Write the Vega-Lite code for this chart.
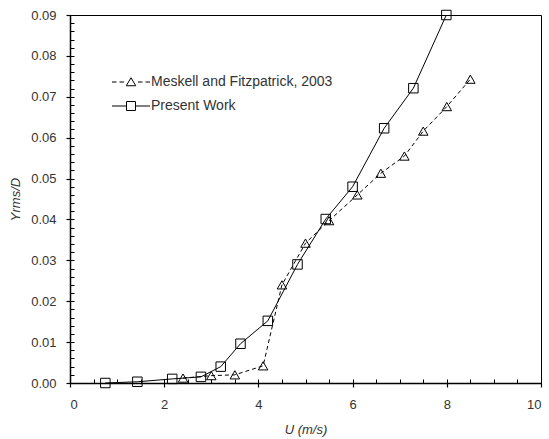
{
  "$schema": "https://vega.github.io/schema/vega-lite/v6.json",
  "width": 471,
  "height": 368,
  "autosize": "none",
  "padding": {"left": 70, "top": 15, "right": 8, "bottom": 56},
  "background": "white",
  "config": {
    "view": {"stroke": "black", "strokeWidth": 1},
    "font": "Liberation Sans",
    "axis": {"grid": false}
  },
  "data": {
    "values": [
      {"series": "Meskell and Fitzpatrick, 2003", "U": 2.4, "Y": 0.0012},
      {"series": "Meskell and Fitzpatrick, 2003", "U": 3.0, "Y": 0.0018},
      {"series": "Meskell and Fitzpatrick, 2003", "U": 3.5, "Y": 0.0020},
      {"series": "Meskell and Fitzpatrick, 2003", "U": 4.1, "Y": 0.0042},
      {"series": "Meskell and Fitzpatrick, 2003", "U": 4.5, "Y": 0.0240},
      {"series": "Meskell and Fitzpatrick, 2003", "U": 5.0, "Y": 0.0342},
      {"series": "Meskell and Fitzpatrick, 2003", "U": 5.5, "Y": 0.0397},
      {"series": "Meskell and Fitzpatrick, 2003", "U": 6.1, "Y": 0.0460},
      {"series": "Meskell and Fitzpatrick, 2003", "U": 6.6, "Y": 0.0513},
      {"series": "Meskell and Fitzpatrick, 2003", "U": 7.1, "Y": 0.0555},
      {"series": "Meskell and Fitzpatrick, 2003", "U": 7.5, "Y": 0.0616},
      {"series": "Meskell and Fitzpatrick, 2003", "U": 8.0, "Y": 0.0676},
      {"series": "Meskell and Fitzpatrick, 2003", "U": 8.5, "Y": 0.0743},
      {"series": "Present Work", "U": 0.75, "Y": 0.0},
      {"series": "Present Work", "U": 1.43, "Y": 0.0003},
      {"series": "Present Work", "U": 2.17, "Y": 0.0010},
      {"series": "Present Work", "U": 2.78, "Y": 0.0015},
      {"series": "Present Work", "U": 3.2, "Y": 0.0040},
      {"series": "Present Work", "U": 3.62, "Y": 0.0096},
      {"series": "Present Work", "U": 4.2, "Y": 0.0152},
      {"series": "Present Work", "U": 4.83, "Y": 0.0290},
      {"series": "Present Work", "U": 5.43, "Y": 0.0401},
      {"series": "Present Work", "U": 6.0, "Y": 0.0480},
      {"series": "Present Work", "U": 6.67, "Y": 0.0623},
      {"series": "Present Work", "U": 7.29, "Y": 0.0721},
      {"series": "Present Work", "U": 7.99, "Y": 0.0900}
    ]
  },
  "layer": [
    {
      "transform": [{"filter": "datum.series === 'Meskell and Fitzpatrick, 2003'"}],
      "mark": {"type": "line", "color": "black", "strokeWidth": 1, "strokeDash": [4, 3]},
      "encoding": {
        "x": {
          "field": "U", "type": "quantitative",
          "scale": {"domain": [0, 10], "nice": false, "zero": false},
          "axis": {
            "title": "U (m/s)", "orient": "bottom",
            "values": [0, 2, 4, 6, 8, 10], "format": "d",
            "tickSize": 4, "tickColor": "black", "tickWidth": 1.2,
            "domainColor": "black", "domainWidth": 1.5,
            "labelFontSize": 13, "labelColor": "#333", "labelPadding": 11,
            "titleFontSize": 13, "titleFontStyle": "italic", "titleFontWeight": "normal",
            "titleColor": "#333", "titlePadding": 12
          }
        },
        "y": {
          "field": "Y", "type": "quantitative",
          "scale": {"domain": [0, 0.09], "nice": false, "zero": false},
          "axis": {
            "title": "Yrms/D", "orient": "left",
            "values": [0, 0.01, 0.02, 0.03, 0.04, 0.05, 0.06, 0.07, 0.08, 0.09], "format": ".2f",
            "tickSize": 4, "tickColor": "black", "tickWidth": 1.2,
            "domainColor": "black", "domainWidth": 1.5,
            "labelFontSize": 13, "labelColor": "#333", "labelPadding": 10,
            "titleFontSize": 13, "titleFontStyle": "italic", "titleFontWeight": "normal",
            "titleColor": "#333", "titlePadding": 8
          }
        }
      }
    },
    {
      "transform": [{"filter": "datum.series === 'Present Work'"}],
      "mark": {"type": "line", "color": "black", "strokeWidth": 1},
      "encoding": {
        "x": {
          "field": "U", "type": "quantitative",
          "axis": {
            "orient": "top", "title": null, "labels": false, "domain": false, "offset": -368,
            "values": [0, 0.5, 1, 1.5, 2, 2.5, 3, 3.5, 4, 4.5, 5, 5.5, 6, 6.5, 7, 7.5, 8, 8.5, 9, 9.5, 10],
            "tickSize": 4, "tickColor": "black", "tickWidth": 1
          }
        },
        "y": {
          "field": "Y", "type": "quantitative",
          "axis": {
            "orient": "right", "title": null, "labels": false, "domain": false, "offset": -471,
            "values": [0, 0.002, 0.004, 0.006, 0.008, 0.01, 0.012, 0.014, 0.016, 0.018, 0.02, 0.022, 0.024, 0.026, 0.028, 0.03, 0.032, 0.034, 0.036, 0.038, 0.04, 0.042, 0.044, 0.046, 0.048, 0.05, 0.052, 0.054, 0.056, 0.058, 0.06, 0.062, 0.064, 0.066, 0.068, 0.07, 0.072, 0.074, 0.076, 0.078, 0.08, 0.082, 0.084, 0.086, 0.088, 0.09],
            "tickSize": 4, "tickColor": "black", "tickWidth": 1
          }
        }
      }
    },
    {
      "mark": {"type": "point", "filled": false, "color": "black", "strokeWidth": 1, "opacity": 1, "size": 90},
      "encoding": {
        "x": {"field": "U", "type": "quantitative", "axis": null},
        "y": {"field": "Y", "type": "quantitative", "axis": null},
        "shape": {
          "field": "series", "type": "nominal",
          "scale": {"domain": ["Meskell and Fitzpatrick, 2003", "Present Work"], "range": ["triangle-up", "square"]},
          "legend": null
        }
      }
    },
    {
      "mark": {"type": "point", "filled": false, "color": "black", "strokeWidth": 1, "opacity": 0, "size": 0},
      "encoding": {
        "x": {"field": "U", "type": "quantitative", "axis": null},
        "y": {"field": "Y", "type": "quantitative", "axis": null},
        "shape": {
          "field": "series", "type": "nominal",
          "scale": {"domain": ["Meskell and Fitzpatrick, 2003", "Present Work"], "range": ["M-3.8,0H-2.9M-2.3,0H-1.4M0,-0.85L0.95,0.75L-0.95,0.75ZM1.4,0H2.3M2.9,0H3.8", "M-3.8,0H-0.9M0.9,0H3.8M-0.9,-0.9H0.9V0.9H-0.9Z"]},
          "legend": {
            "title": null, "orient": "none", "legendX": 54, "legendY": 60,
            "padding": 0, "symbolSize": 100, "symbolStrokeColor": "black", "symbolFillColor": "transparent",
            "symbolOpacity": 1, "symbolStrokeWidth": 1, "labelFontSize": 14, "labelColor": "#333", "labelOffset": 13, "labelLimit": 400, "rowPadding": 10
          }
        }
      }
    }
  ],
  "resolve": {"axis": {"x": "independent", "y": "independent"}, "scale": {"shape": "independent"}}
}
